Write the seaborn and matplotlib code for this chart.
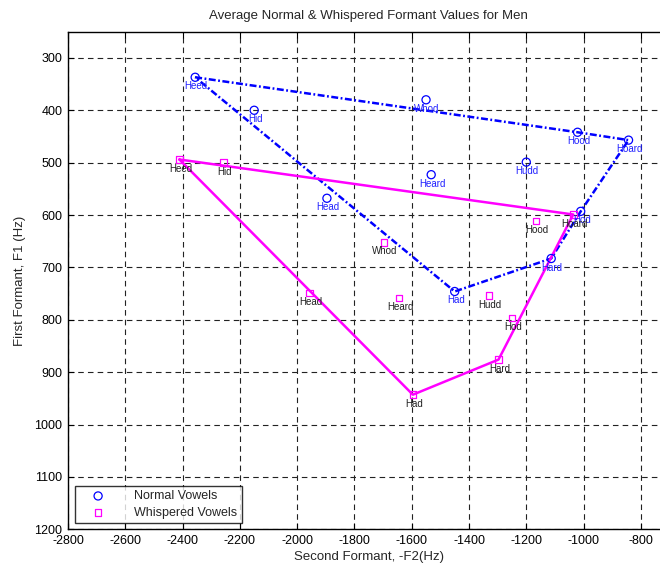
import matplotlib
matplotlib.use("Agg")
import matplotlib.pyplot as plt
import seaborn as sns
import pandas as pd

vowels = ["Heed", "Hid", "Head", "Had", "Hard", "Hod", "Hoard", "Hood", "Whod", "Hudd", "Heard"]
normal_f2 = [-2356, -2150, -1896, -1450, -1113, -1010, -843, -1021, -1550, -1200, -1532]
normal_f1 = [337, 400, 568, 746, 683, 593, 457, 442, 380, 499, 523]
whisp_f2 = [-2411, -2257, -1957, -1596, -1297, -1250, -1036, -1166, -1697, -1330, -1644]
whisp_f1 = [494, 500, 749, 943, 876, 797, 599, 611, 652, 754, 758]

normal_hull = ["Heed", "Hood", "Hoard", "Hod", "Hard", "Had", "Heed"]
whisp_hull = ["Heed", "Hoard", "Hard", "Had", "Heed"]

x_ticks = list(range(-2800, -799, 200))
y_ticks = list(range(300, 1201, 100))

title = "Average Normal & Whispered Formant Values for Men"
xlabel = "Second Formant, -F2(Hz)"
ylabel = "First Formant, F1 (Hz)"

normal = pd.DataFrame({"vowel": vowels, "F2": normal_f2, "F1": normal_f1})
whisp = pd.DataFrame({"vowel": vowels, "F2": whisp_f2, "F1": whisp_f1})
normal_path = normal.set_index("vowel").loc[normal_hull].reset_index()
whisp_path = whisp.set_index("vowel").loc[whisp_hull].reset_index()

sns.set_style("white")
plt.rcParams["font.family"] = ["Liberation Sans", "DejaVu Sans"]
plt.rcParams["lines.scale_dashes"] = False
plt.rcParams["axes.unicode_minus"] = False

fig = plt.figure(figsize=(6.6, 5.7), dpi=100)
W, H = 660, 570
left, right, top, bottom = 68.0, 669.5, 31.7, 529.3
ax = fig.add_axes([left / W, 1 - bottom / H, (right - left) / W, (bottom - top) / H])

BLUE = "#0000ff"
MAG = "#ff00ff"

sns.lineplot(data=normal_path, x="F2", y="F1", sort=False, estimator=None, ax=ax,
             color=BLUE, lw=1.8, dashes=False, legend=False)
ax.lines[-1].set_dashes((5, 1.8, 1.3, 1.8))
sns.lineplot(data=whisp_path, x="F2", y="F1", sort=False, estimator=None, ax=ax,
             color=MAG, lw=1.8, legend=False)

sns.scatterplot(data=normal, x="F2", y="F1", ax=ax, marker="o", s=34,
                color=BLUE, facecolor="none", edgecolor=BLUE, linewidth=0.9,
                label="Normal Vowels", zorder=5)
sns.scatterplot(data=whisp, x="F2", y="F1", ax=ax, marker="s", s=22,
                color=MAG, facecolor="none", edgecolor=MAG, linewidth=0.9,
                label="Whispered Vowels", zorder=5)

for v, x, y in zip(vowels, normal_f2, normal_f1):
    ax.annotate(v, (x, y), xytext=(1, -9), textcoords="offset pixels",
                ha="center", va="center", fontsize=7, color="#2020ff", zorder=6)
for v, x, y in zip(vowels, whisp_f2, whisp_f1):
    ax.annotate(v, (x, y), xytext=(1, -9), textcoords="offset pixels",
                ha="center", va="center", fontsize=7, color="#202020", zorder=6)

ax.set_xlim(-2800, -700)
ax.set_ylim(1200, 250)
ax.set_xticks(x_ticks)
ax.set_yticks(y_ticks)
ax.grid(True, color="#222222", linestyle=(0, (4, 3)), linewidth=0.8)
ax.set_axisbelow(True)
for s in ax.spines.values():
    s.set_color("black")
    s.set_linewidth(1.0)
    s.set_visible(True)
ax.tick_params(direction="in", length=4, width=0.8, labelsize=9, colors="black",
               top=True, right=True, bottom=True, left=True, pad=4)

ax.set_title(title, fontsize=9.5, pad=9)
ax.set_xlabel(xlabel, fontsize=9.5, labelpad=3)
ax.set_ylabel(ylabel, fontsize=9.5, labelpad=6)

leg = ax.legend(loc="lower left", bbox_to_anchor=(0.0116, 0.0127), borderaxespad=0,
                fontsize=9, frameon=True, fancybox=False, handlelength=3.0,
                handletextpad=1.4, borderpad=0.35, labelspacing=0.35)
leg.get_frame().set_edgecolor("black")
leg.get_frame().set_linewidth(1.0)

fig.savefig("out.png", dpi=100)
